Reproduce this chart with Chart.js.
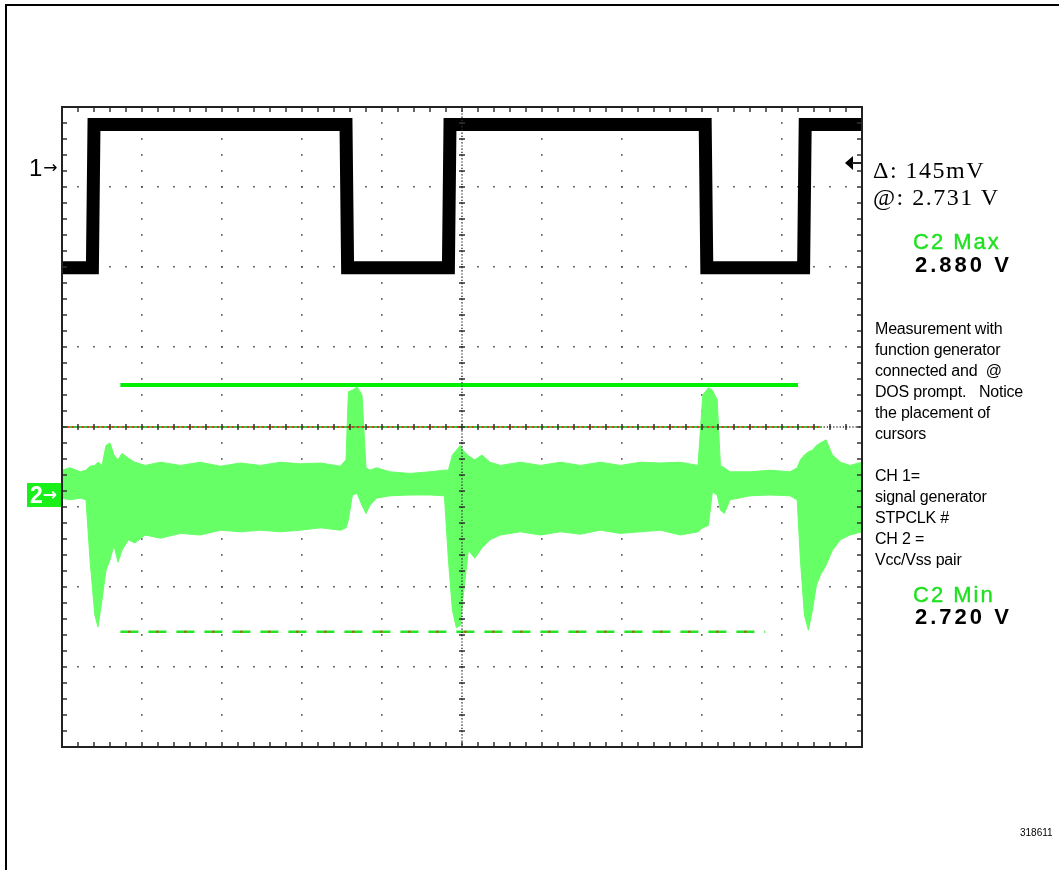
<!DOCTYPE html>
<html>
<head>
<meta charset="utf-8">
<script src="https://cdn.jsdelivr.net/npm/chart.js@4.4.1/dist/chart.umd.min.js"></script>
<style>
  html, body { margin: 0; padding: 0; background: #fff; overflow: hidden; }
  #wrap { position: relative; width: 1059px; height: 870px; }
  #scope { position: absolute; left: 0; top: 0; }
  .frame { position: absolute; left: 5px; top: 4px; right: -4px; bottom: -4px; border-top: 2px solid #000; border-left: 2px solid #000; }
  .txt { position: absolute; white-space: pre; font-family: "Liberation Sans", Arial, sans-serif; color: #000; }
  .cur { font-family: "Liberation Serif", "Times New Roman", serif; font-size: 24px; line-height: 24px; letter-spacing: 1.5px; }
  .meas { font-size: 22px; line-height: 22px; letter-spacing: 2px; color: #1fe01f; -webkit-text-stroke: 0.4px #1fe01f; }
  .val { font-size: 22px; line-height: 22px; letter-spacing: 3px; font-weight: bold; }
  .note { font-size: 16px; line-height: 21px; letter-spacing: -0.2px; }
  .ch1 { font-size: 24px; line-height: 24px; }
  .arr { display: inline-block; font-family: "DejaVu Sans", sans-serif; font-size: 17px; position: relative; top: -3px; margin-left: 1px; }
  .ch2 { background: #19f019; color: #fff; font-size: 23px; line-height: 24px; font-weight: bold; padding-left: 3px; width: 31px; height: 24px; letter-spacing: -1px; }
</style>
</head>
<body>
<div id="wrap">
  <div class="frame"></div>
  <canvas id="scope" width="1059" height="870"></canvas>

  <div class="txt ch1" style="left:29px; top:156px;">1<span class="arr">→</span></div>
  <div class="txt ch2" style="left:27px; top:483px;">2<span class="arr" style="font-weight:bold">→</span></div>

  <div class="txt cur" style="left:873px; top:158px;">Δ: 145mV</div>
  <div class="txt cur" style="left:873px; top:185px;">@: 2.731 V</div>

  <div class="txt meas" style="left:913px; top:231px;">C2 Max</div>
  <div class="txt val" style="left:915px; top:254px;">2.880 V</div>

  <div class="txt note" style="left:875px; top:318px;">Measurement with
function generator
connected and  @
DOS prompt.   Notice
the placement of
cursors

CH 1=
signal generator
STPCLK #
CH 2 =
Vcc/Vss pair</div>

  <div class="txt meas" style="left:913px; top:584px;">C2 Min</div>
  <div class="txt val" style="left:915px; top:606px;">2.720 V</div>

  <div class="txt" style="left:1020px; top:827px; font-size:10px; line-height:12px;">318611</div>
</div>

<script>
// screen is 10 x 8 divisions, centre at (5, 0)
const ch1Time  = [0, 0.38, 0.4, 3.55, 3.57, 4.83, 4.85, 8.04, 8.06, 9.27, 9.29, 10];
const ch1Level = [1.99, 1.99, 3.78, 3.78, 1.99, 1.99, 3.78, 3.78, 1.99, 1.99, 3.78, 3.78];

const ch2Time = [0, 0.1, 0.23, 0.3, 0.35, 0.41, 0.45, 0.5, 0.55, 0.6, 0.65, 0.7, 0.75, 0.83, 0.91,
  1.04, 1.23, 1.48, 1.73, 1.98, 2.23, 2.48, 2.73, 2.98, 3.23, 3.48, 3.55, 3.58, 3.63, 3.69, 3.75,
  3.8, 3.85, 3.93, 4.1, 4.35, 4.6, 4.78, 4.83, 4.88, 4.93, 4.98, 5.01, 5.08, 5.16, 5.25, 5.35,
  5.48, 5.73, 5.98, 6.23, 6.48, 6.73, 6.98, 7.23, 7.48, 7.73, 7.95, 8.01, 8.08, 8.13, 8.19, 8.23,
  8.28, 8.35, 8.6, 8.85, 9.1, 9.19, 9.23, 9.28, 9.33, 9.38, 9.43, 9.48, 9.55, 9.63, 9.73, 9.85, 10];
const ch2Upper = [-0.54, -0.51, -0.56, -0.54, -0.49, -0.48, -0.44, -0.48, -0.23, -0.2, -0.35, -0.41, -0.33, -0.39, -0.44,
  -0.48, -0.44, -0.48, -0.44, -0.49, -0.45, -0.48, -0.44, -0.46, -0.45, -0.49, -0.41, 0.44, 0.46, 0.5, 0.4,
  -0.51, -0.54, -0.51, -0.56, -0.58, -0.56, -0.54, -0.54, -0.35, -0.29, -0.23, -0.29, -0.36, -0.41, -0.35, -0.44,
  -0.48, -0.44, -0.48, -0.44, -0.48, -0.44, -0.48, -0.44, -0.45, -0.44, -0.48, 0.4, 0.49, 0.46, 0.34, -0.48,
  -0.51, -0.56, -0.56, -0.54, -0.56, -0.51, -0.41, -0.35, -0.31, -0.29, -0.23, -0.2, -0.16, -0.35, -0.44, -0.48, -0.44];
const ch2Lower = [-0.89, -0.91, -0.89, -0.91, -1.66, -2.35, -2.5, -2.16, -1.79, -1.66, -1.48, -1.69, -1.54, -1.41, -1.45,
  -1.35, -1.39, -1.33, -1.35, -1.29, -1.31, -1.29, -1.31, -1.29, -1.26, -1.29, -1.26, -1.16, -0.85, -0.83, -0.98,
  -1.08, -0.98, -0.89, -0.86, -0.85, -0.85, -0.86, -1.66, -2.29, -2.51, -2.48, -2.16, -1.54, -1.64, -1.51, -1.41,
  -1.35, -1.31, -1.35, -1.31, -1.34, -1.29, -1.33, -1.31, -1.29, -1.35, -1.31, -1.26, -1.23, -0.81, -0.85, -1.04,
  -1.08, -0.91, -0.86, -0.85, -0.86, -0.91, -1.66, -2.35, -2.54, -2.29, -1.98, -1.85, -1.73, -1.54, -1.41, -1.35, -1.31];

// cursors: level and horizontal extent
const maxCursor = 0.525, maxCursorSpan = [0.73, 9.2];
const minCursor = -2.56, minCursorSpan = [0.73, 8.79];
const refCursor = 0,     refCursorSpan = [0, 9.5];
const ch1ArrowLevel = 3.3;

const toPoints = (xs, ys) => xs.map((v, i) => ({ x: v, y: ys[i] }));
const flat = (span, level) => span.map(v => ({ x: v, y: level }));

const scopeFrame = {
    id: "scopeFrame",
    beforeDatasetsDraw(chart) {
        const { ctx, chartArea: a, scales: { y } } = chart;
        const cy = y.getPixelForValue(0);
        ctx.save();
        ctx.strokeStyle = "#333";
        ctx.lineWidth = 1.5;
        ctx.setLineDash([1.2, 2]);
        ctx.beginPath();
        ctx.moveTo(a.left, cy);
        ctx.lineTo(a.right, cy);
        ctx.stroke();
        ctx.restore();
    },
    afterDraw(chart) {
        const { ctx, chartArea: a, scales: { x, y } } = chart;
        const cx = x.getPixelForValue(5), cy = y.getPixelForValue(0);
        ctx.save();
        // fine dotted vertical centre line
        ctx.strokeStyle = "#333";
        ctx.lineWidth = 1.5;
        ctx.setLineDash([1.2, 2]);
        ctx.beginPath();
        ctx.moveTo(cx, a.top);
        ctx.lineTo(cx, a.bottom);
        ctx.stroke();
        ctx.setLineDash([]);

        // minor ticks, 5 per division, on centre lines and edges
        ctx.lineWidth = 1.5;
        ctx.beginPath();
        for (let i = 0; i <= 50; i++) {
            const px = x.getPixelForValue(i / 5);
            ctx.moveTo(px, cy - 3); ctx.lineTo(px, cy + 3);
            ctx.moveTo(px, a.top); ctx.lineTo(px, a.top + 5);
            ctx.moveTo(px, a.bottom); ctx.lineTo(px, a.bottom - 5);
        }
        for (let i = 0; i <= 40; i++) {
            const py = y.getPixelForValue(-4 + i / 5);
            ctx.moveTo(cx - 3, py); ctx.lineTo(cx + 3, py);
            ctx.moveTo(a.left, py); ctx.lineTo(a.left + 5, py);
            ctx.moveTo(a.right, py); ctx.lineTo(a.right - 5, py);
        }
        ctx.stroke();

        // screen border
        ctx.lineWidth = 2;
        ctx.strokeStyle = "#222";
        ctx.strokeRect(a.left, a.top, a.right - a.left, a.bottom - a.top);

        // ch1 cursor arrow on the right edge
        const ay = y.getPixelForValue(ch1ArrowLevel);
        ctx.fillStyle = "#000";
        ctx.beginPath();
        ctx.moveTo(a.right - 17, ay);
        ctx.lineTo(a.right - 9, ay - 7);
        ctx.lineTo(a.right - 9, ay + 7);
        ctx.closePath();
        ctx.fill();
        ctx.lineWidth = 2;
        ctx.beginPath();
        ctx.moveTo(a.right - 10, ay);
        ctx.lineTo(a.right, ay);
        ctx.stroke();
        ctx.restore();
    }
};

new Chart(document.getElementById("scope"), {
    type: "line",
    data: {
        datasets: [
            {
                label: "CH1",
                data: toPoints(ch1Time, ch1Level),
                borderColor: "#000",
                borderWidth: 13,
                borderJoinStyle: "miter",
                borderCapStyle: "butt",
                clip: 0,
                order: 0
            },
            {
                label: "C2 Max cursor",
                data: flat(maxCursorSpan, maxCursor),
                borderColor: "#00f000",
                borderWidth: 4,
                order: 1
            },
            {
                label: "C2 Min cursor",
                data: flat(minCursorSpan, minCursor),
                borderColor: "#22e622",
                borderWidth: 2.5,
                borderDash: [18, 10],
                order: 2
            },
            {
                label: "C2 Min cursor dots",
                data: flat(minCursorSpan, minCursor),
                borderColor: "#ff2020",
                borderWidth: 2,
                borderDash: [2, 26],
                borderDashOffset: -8,
                order: 1
            },
            {
                label: "ref cursor",
                data: flat(refCursorSpan, refCursor),
                borderColor: "#3cc23c",
                borderWidth: 2,
                order: 3
            },
            {
                label: "ref cursor dots",
                data: flat(refCursorSpan, refCursor),
                borderColor: "#e03a1a",
                borderWidth: 2,
                borderDash: [2, 3],
                order: 2
            },
            {
                label: "CH2 low",
                data: toPoints(ch2Time, ch2Lower),
                borderColor: "#66ff66",
                borderWidth: 1,
                fill: false,
                order: 6
            },
            {
                label: "CH2 high",
                data: toPoints(ch2Time, ch2Upper),
                borderColor: "#66ff66",
                backgroundColor: "#66ff66",
                borderWidth: 1,
                fill: "-1",
                order: 5
            }
        ]
    },
    options: {
        responsive: false,
        animation: false,
        layout: { padding: { left: 62, top: 107, right: 197, bottom: 123 } },
        elements: { point: { radius: 0 }, line: { tension: 0 } },
        plugins: { legend: { display: false }, tooltip: { enabled: false } },
        scales: {
            x: {
                type: "linear", min: 0, max: 10, z: 1,
                ticks: { display: false, stepSize: 1 },
                grid: { color: "#444", lineWidth: 1.6, drawTicks: false },
                border: { display: false, dash: [1.6, 14.4], dashOffset: 0.8 }
            },
            y: {
                type: "linear", min: -4, max: 4, z: 1,
                ticks: { display: false, stepSize: 1 },
                grid: { color: "#444", lineWidth: 1.6, drawTicks: false },
                border: { display: false, dash: [1.6, 14.4], dashOffset: 0.8 }
            }
        }
    },
    plugins: [scopeFrame]
});
</script>
</body>
</html>
